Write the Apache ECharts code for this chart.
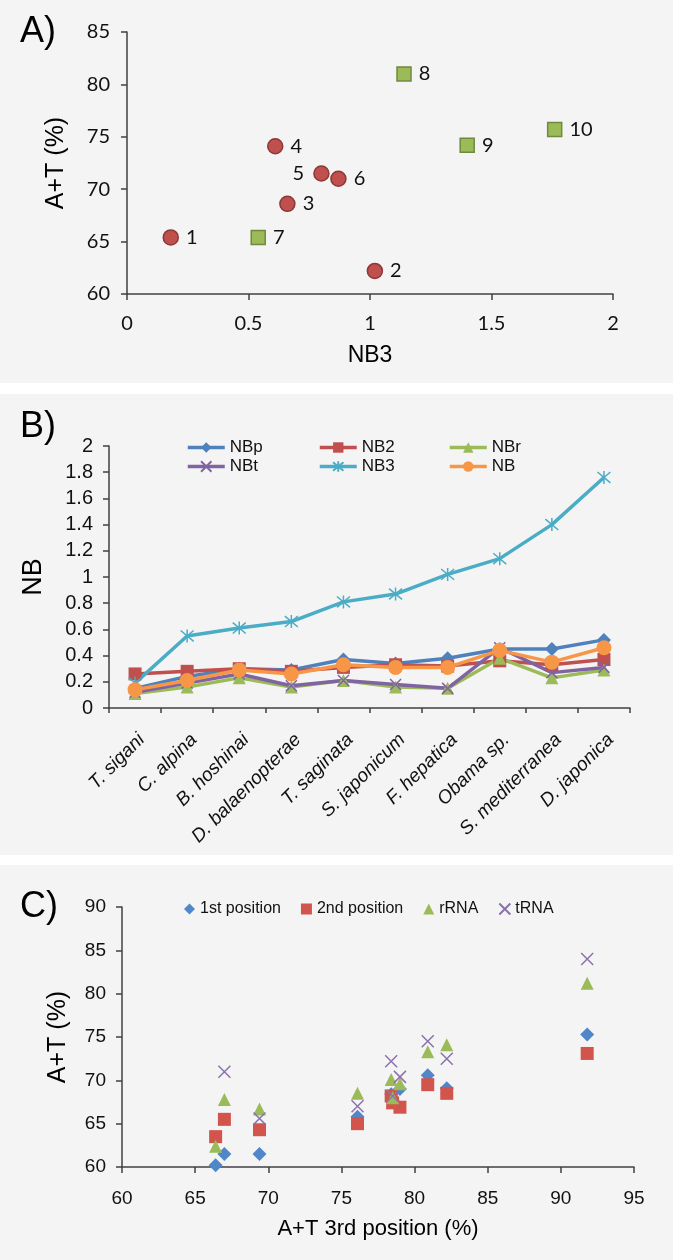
<!DOCTYPE html>
<html>
<head>
<meta charset="utf-8">
<script src="https://cdn.jsdelivr.net/npm/echarts@6/dist/echarts.min.js"></script>
<style>
  body { margin: 0; background: #fff; }
  .panel { position: absolute; left: 0; width: 673px; background: #f4f4f4; }
</style>
</head>
<body>
<div id="a" class="panel" style="top:0;height:383px"></div>
<div id="b" class="panel" style="top:394px;height:461px"></div>
<div id="c" class="panel" style="top:865px;height:395px"></div>
<script>
const FONT = '"Liberation Sans", Arial, sans-serif';
const AXIS = '#404040';

// panel A
const circleNb3 = [0.18, 1.02, 0.66, 0.61, 0.80, 0.87];
const circleAT = [65.4, 62.2, 68.6, 74.1, 71.5, 71.0];
const circleIds = ['1', '2', '3', '4', '5', '6'];
const squareNb3 = [0.54, 1.14, 1.40, 1.76];
const squareAT = [65.4, 81.0, 74.2, 75.7];
const squareIds = ['7', '8', '9', '10'];

// panel B
const species = ['T. sigani', 'C. alpina', 'B. hoshinai', 'D. balaenopterae', 'T. saginata',
  'S. japonicum', 'F. hepatica', 'Obama sp.', 'S. mediterranea', 'D. japonica'];
const nbp = [0.15, 0.24, 0.30, 0.29, 0.37, 0.34, 0.38, 0.45, 0.45, 0.52];
const nb2 = [0.26, 0.28, 0.30, 0.28, 0.31, 0.33, 0.32, 0.36, 0.33, 0.37];
const nbr = [0.11, 0.16, 0.23, 0.16, 0.21, 0.16, 0.15, 0.38, 0.23, 0.29];
const nbt = [0.12, 0.19, 0.26, 0.17, 0.21, 0.18, 0.15, 0.46, 0.27, 0.31];
const nb3 = [0.19, 0.55, 0.61, 0.66, 0.81, 0.87, 1.02, 1.14, 1.40, 1.76];
const nbAll = [0.14, 0.21, 0.29, 0.26, 0.33, 0.31, 0.31, 0.44, 0.35, 0.46];

// panel C
const at3rd = [66.4, 67.0, 69.4, 76.1, 78.4, 78.5, 79.0, 80.9, 82.2, 91.8];
const at1st = [60.2, 61.5, 61.5, 65.8, 68.4, 67.7, 69.0, 70.6, 69.1, 75.3];
const at2nd = [63.5, 65.5, 64.3, 65.0, 68.2, 67.4, 66.9, 69.5, 68.5, 73.1];
const atRRNA = [62.4, 67.8, 66.7, 68.5, 70.1, 68.0, 69.6, 73.3, 74.1, 81.2];
const atTRNA = [null, 71.0, 65.6, 67.0, 72.2, 68.2, 70.4, 74.5, 72.5, 84.0];

const X_PATH = 'path://M0,0L10,10M10,0L0,10';
const STAR_PATH = 'path://M0,0L10,10M10,0L0,10M5,-1L5,11';

function axisCommon(labelFont, labelSize, margin) {
  return {
    axisLine: { show: true, lineStyle: { color: AXIS, width: 1.5 } },
    axisTick: { show: true, length: 6, lineStyle: { color: AXIS, width: 1.5 } },
    axisLabel: { color: '#111', fontFamily: labelFont, fontSize: labelSize, margin: margin },
    splitLine: { show: false }
  };
}

function panelTag(text, y) {
  return { type: 'text', left: 20, top: y - 18, style: { text: text, font: '36px ' + FONT, fill: '#000' } };
}

// ---------- A ----------
const chartA = echarts.init(document.getElementById('a'));
const aLabel = { show: true, position: 'right', distance: 7, formatter: '{b}', color: '#111', fontFamily: 'Lato', fontSize: 20 };
chartA.setOption({
  animation: false,
  graphic: [panelTag('A)', 32)],
  grid: { left: 127, right: 60, top: 32, bottom: 89 },
  xAxis: Object.assign(axisCommon('Lato', 20, 20), {
    type: 'value', min: 0, max: 2, interval: 0.5,
    name: 'NB3', nameLocation: 'middle', nameGap: 50,
    nameTextStyle: { fontFamily: FONT, fontSize: 23, color: '#000' }
  }),
  yAxis: Object.assign(axisCommon('Lato', 20, 17), {
    type: 'value', min: 60, max: 85, interval: 5,
    name: 'A+T (%)', nameLocation: 'middle', nameGap: 58,
    nameTextStyle: { fontFamily: FONT, fontSize: 25, color: '#000' }
  }),
  series: [
    {
      type: 'scatter', symbol: 'circle', symbolSize: 15,
      itemStyle: { color: '#c0504d', borderColor: '#8c3836', borderWidth: 1.5, opacity: 1 },
      label: aLabel,
      data: circleNb3.map((x, i) => {
        const d = { name: circleIds[i], value: [x, circleAT[i]] };
        if (circleIds[i] === '5') d.label = { position: 'left', distance: 9 };
        return d;
      })
    },
    {
      type: 'scatter', symbol: 'rect', symbolSize: 14,
      itemStyle: { color: '#9bbb59', borderColor: '#71893f', borderWidth: 1.5, opacity: 1 },
      label: aLabel,
      data: squareNb3.map((x, i) => ({ name: squareIds[i], value: [x, squareAT[i]] }))
    }
  ]
});

// ---------- B ----------
const chartB = echarts.init(document.getElementById('b'));
const lineDefs = [
  ['NBp', nbp, '#4f81bd', 'diamond', 14],
  ['NB2', nb2, '#c0504d', 'rect', 13],
  ['NBr', nbr, '#9bbb59', 'triangle', 13],
  ['NBt', nbt, '#8064a2', X_PATH, 11],
  ['NB3', nb3, '#4bacc6', STAR_PATH, 13],
  ['NB', nbAll, '#f79646', 'circle', 15]
];
const legendB = (names, left) => ({
  data: names, orient: 'vertical', left: left, top: 45, padding: 0,
  itemWidth: 37, itemHeight: 13, itemGap: 2,
  lineStyle: { width: 3.5 },
  textStyle: { fontFamily: FONT, fontSize: 17, color: '#111' }
});
chartB.setOption({
  animation: false,
  graphic: [panelTag('B)', 33)],
  legend: [legendB(['NBp', 'NBt'], 186), legendB(['NB2', 'NB3'], 318), legendB(['NBr', 'NB'], 448)],
  grid: { left: 109, right: 43, top: 52, bottom: 147 },
  xAxis: Object.assign(axisCommon(FONT, 19), {
    type: 'category', data: species, boundaryGap: true,
    axisTick: { show: true, length: 5, lineStyle: { color: AXIS, width: 1.5 } },
    axisLabel: {
      interval: 0, rotate: 45, margin: 22, verticalAlign: 'top',
      fontStyle: 'italic', fontFamily: FONT, fontSize: 19, color: '#111'
    }
  }),
  yAxis: Object.assign(axisCommon(FONT, 20, 16), {
    type: 'value', min: 0, max: 2, interval: 0.2,
    name: 'NB', nameLocation: 'middle', nameGap: 62,
    nameTextStyle: { fontFamily: FONT, fontSize: 27, color: '#000' }
  }),
  series: lineDefs.map(([name, vals, color, symbol, size]) => ({
    name: name, type: 'line', data: vals,
    symbol: symbol, symbolSize: size, showAllSymbol: true,
    lineStyle: { color: color, width: 3.5 },
    itemStyle: { color: color, borderColor: color, borderWidth: symbol.startsWith('path') ? 1.5 : 0 }
  }))
});

// ---------- C ----------
const chartC = echarts.init(document.getElementById('c'));
const pts = ys => at3rd.map((x, i) => [x, ys[i]]).filter(p => p[1] != null);
const scatterDefs = [
  ['1st position', at1st, '#4f87c8', 'diamond', 14],
  ['2nd position', at2nd, '#d2554d', 'rect', 13],
  ['rRNA', atRRNA, '#9bbb59', 'triangle', 13],
  ['tRNA', atTRNA, '#8b72ad', X_PATH, 12]
];
chartC.setOption({
  animation: false,
  graphic: [panelTag('C)', 42)],
  legend: {
    left: 184, top: 36, padding: 0, itemWidth: 11, itemHeight: 11, itemGap: 20,
    textStyle: { fontFamily: FONT, fontSize: 16, color: '#111' }
  },
  grid: { left: 122, right: 39, top: 42, bottom: 93 },
  xAxis: Object.assign(axisCommon(FONT, 19, 22), {
    type: 'value', min: 60, max: 95, interval: 5,
    name: 'A+T 3rd position (%)', nameLocation: 'middle', nameGap: 51,
    nameTextStyle: { fontFamily: FONT, fontSize: 22, color: '#000' }
  }),
  yAxis: Object.assign(axisCommon(FONT, 19, 16), {
    type: 'value', min: 60, max: 90, interval: 5,
    name: 'A+T (%)', nameLocation: 'middle', nameGap: 51,
    nameTextStyle: { fontFamily: FONT, fontSize: 25, color: '#000' }
  }),
  series: scatterDefs.map(([name, ys, color, symbol, size]) => ({
    name: name, type: 'scatter', data: pts(ys),
    symbol: symbol, symbolSize: size,
    itemStyle: { color: color, borderColor: color, borderWidth: symbol.startsWith('path') ? 1.5 : 0, opacity: 1 }
  }))
});
</script>
</body>
</html>
